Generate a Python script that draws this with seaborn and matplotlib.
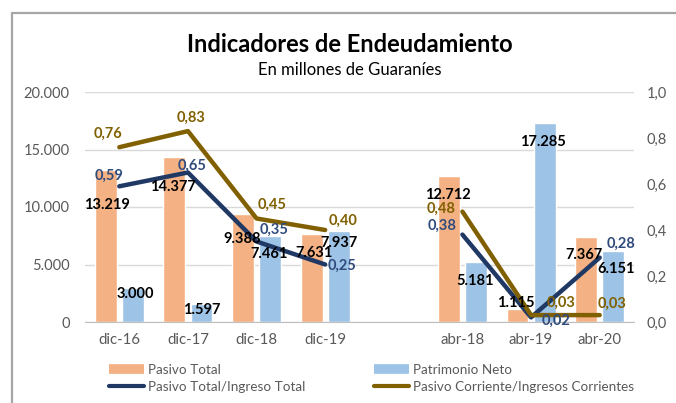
import numpy as np
import pandas as pd
import matplotlib.pyplot as plt
from matplotlib.lines import Line2D
from matplotlib.patches import Rectangle
from matplotlib.ticker import FuncFormatter, FixedLocator
import seaborn as sns

# datos
categorias = ["dic-16", "dic-17", "dic-18", "dic-19", " ", "abr-18", "abr-19", "abr-20"]
periodos = ["dic-16", "dic-17", "dic-18", "dic-19", "abr-18", "abr-19", "abr-20"]
grupo = ["dic", "dic", "dic", "dic", "abr", "abr", "abr"]
pasivo_total = [13219, 14377, 9388, 7631, 12712, 1115, 7367]
patrimonio_neto = [3000, 1597, 7461, 7937, 5181, 17285, 6151]
pt_it = [0.59, 0.65, 0.35, 0.25, 0.38, 0.02, 0.28]
pc_ic = [0.76, 0.83, 0.45, 0.40, 0.48, 0.03, 0.03]

# offsets de las etiquetas (pixeles)
off_pt = [(1, -35), (-2, -30), (-1, -25), (2, -19), (-1, -19), (-2, 6), (-2, -18)]
off_pn = [(2, -7), (0, -6), (-1, -18), (0, -12), (-1, -19), (-2, -19), (3, -18)]
off_ptit = [(-10, 11), (4, 7), (17, 12), (17, -1), (-20, 9), (25, -3), (21, 14)]
off_pcic = [(-11, 13), (3, 13), (16, 14), (18, 9), (-21, 3), (30, 12), (12, 11)]

c_naranja = "#F4B183"
c_azul = "#9DC3E6"
c_navy = "#203864"
c_oliva = "#806000"
gris = "#595959"

sns.set_style("white")
plt.rcParams['font.family'] = ['Lato', 'DejaVu Sans']

barras = pd.DataFrame({
    "categoria": periodos * 2,
    "serie": ["Pasivo Total"] * 7 + ["Patrimonio Neto"] * 7,
    "valor": pasivo_total + patrimonio_neto,
})
pos = [categorias.index(p) for p in periodos]
lineas = pd.DataFrame({
    "pos": pos * 2,
    "grupo": grupo * 2,
    "serie": ["Pasivo Total/Ingreso Total"] * 7 + ["Pasivo Corriente/Ingresos Corrientes"] * 7,
    "valor": pt_it + pc_ic,
})

fig = plt.figure(figsize=(6.76, 4.03), dpi=100)
ax = fig.add_axes([85 / 676, 1 - 322 / 403, 549 / 676, 230 / 403])

sns.barplot(data=barras, x="categoria", y="valor", hue="serie", order=categorias,
            hue_order=["Pasivo Total", "Patrimonio Neto"],
            palette=[c_naranja, c_azul], saturation=1, width=0.79, gap=0.19,
            legend=False, ax=ax, zorder=2)
ax.set_ylim(0, 20000)
ax.set_xlim(-0.5, 7.5)
ax.set_yticks(np.arange(0, 20001, 5000))
ax.yaxis.set_major_formatter(FuncFormatter(lambda v, p: f"{int(v):,}".replace(",", ".")))
ax.grid(axis="y", color="#D9D9D9", lw=1, zorder=0)
ax.set_axisbelow(True)
ax.set_xlabel("")
ax.set_ylabel("")
for s in ["top", "left", "right"]:
    ax.spines[s].set_visible(False)
ax.spines["bottom"].set_color("#BFBFBF")
ax.tick_params(axis="y", length=0, pad=11, labelsize=10.5, labelcolor=gris)
ax.tick_params(axis="x", which="major", length=0, pad=8, labelsize=10.8, labelcolor=gris)
ax.xaxis.set_minor_locator(FixedLocator(np.arange(-0.5, 8, 1)))
ax.tick_params(axis="x", which="minor", length=5, color="#BFBFBF", direction="out")

ax2 = ax.twinx()
sns.lineplot(data=lineas, x="pos", y="valor", hue="serie", units="grupo", estimator=None,
             palette=[c_navy, c_oliva], lw=3.2, legend=False, ax=ax2)
ax2.set_ylim(0, 1.0)
ax2.set_xlim(-0.5, 7.5)
ax2.set_yticks(np.arange(0, 1.01, 0.2))
ax2.yaxis.set_major_formatter(FuncFormatter(lambda v, p: f"{v:.1f}".replace(".", ",")))
ax2.tick_params(axis="y", length=0, pad=9, labelsize=10.5, labelcolor=gris)
ax2.set_xlabel("")
ax2.set_ylabel("")
for s in ax2.spines.values():
    s.set_visible(False)

# etiquetas
for i, p in enumerate(pos):
    ax2.annotate(f"{pasivo_total[i]:,}".replace(",", "."), xy=(p - 0.197, pasivo_total[i]),
                 xycoords=ax.transData, xytext=off_pt[i], textcoords="offset pixels",
                 ha="center", va="center", fontsize=10.5, fontweight="bold", color="black")
    ax2.annotate(f"{patrimonio_neto[i]:,}".replace(",", "."), xy=(p + 0.197, patrimonio_neto[i]),
                 xycoords=ax.transData, xytext=off_pn[i], textcoords="offset pixels",
                 ha="center", va="center", fontsize=10.5, fontweight="bold", color="black")
    ax2.annotate(f"{pt_it[i]:.2f}".replace(".", ","), xy=(p, pt_it[i]),
                 xytext=off_ptit[i], textcoords="offset pixels",
                 ha="center", va="center", fontsize=10.5, fontweight="bold", color="#2F4B7C")
    ax2.annotate(f"{pc_ic[i]:.2f}".replace(".", ","), xy=(p, pc_ic[i]),
                 xytext=off_pcic[i], textcoords="offset pixels",
                 ha="center", va="center", fontsize=10.5, fontweight="bold", color=c_oliva)

fig.text(350 / 676, 1 - 45 / 403, "Indicadores de Endeudamiento", ha="center", va="center",
         fontsize=17, fontweight="bold", color="black")
fig.text(350 / 676, 1 - 70 / 403, "En millones de Guaraníes", ha="center", va="center",
         fontsize=12, color="black")

handles = [
    Line2D([], [], color=c_naranja, lw=7, solid_capstyle="butt"),
    Line2D([], [], color=c_navy, lw=3, solid_capstyle="round"),
    Line2D([], [], color=c_azul, lw=7, solid_capstyle="butt"),
    Line2D([], [], color=c_oliva, lw=3, solid_capstyle="round"),
]
etiquetas = ["Pasivo Total", "Pasivo Total/Ingreso Total", "Patrimonio Neto",
             "Pasivo Corriente/Ingresos Corrientes"]
leg = fig.legend(handles, etiquetas, ncol=2, loc="upper left",
                 bbox_to_anchor=(109 / 676, 1 - 364 / 403), frameon=False,
                 fontsize=9.7, handlelength=2.6, handletextpad=0.3, columnspacing=5.1,
                 labelspacing=0.35, borderpad=0, borderaxespad=0)
for t in leg.get_texts():
    t.set_color(gris)

fig.add_artist(Rectangle((12 / 676, -0.1), 1.1, 1.1 - 13 / 403, transform=fig.transFigure,
                         fill=False, edgecolor="#A6A6A6", lw=1.6, clip_on=False))

plt.savefig("out.png", dpi=100)
